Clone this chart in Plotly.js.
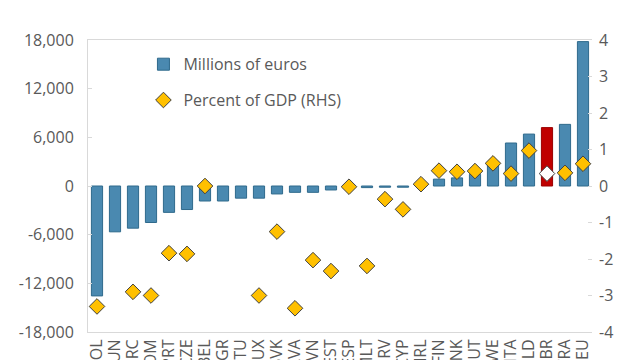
<!DOCTYPE html>
<html>
<head>
<meta charset="utf-8">
<script src="https://cdn.plot.ly/plotly-3.0.1.min.js"></script>
<style>html,body{margin:0;padding:0;background:#fff;}#chart{width:640px;height:360px;}</style>
</head>
<body>
<div id="chart"></div>
<script>
const countries = ['POL','HUN','GRC','ROM','PRT','CZE','BEL','BGR','LTU','LUX','SVK','LVA','SVN','EST','ESP','MLT','HRV','CYP','IRL','FIN','DNK','AUT','SWE','ITA','NLD','GBR','FRA','DEU'];
const millionsEuros = [-13550,-5650,-5200,-4500,-3250,-2900,-1850,-1850,-1500,-1500,-980,-780,-780,-490,-200,-200,-150,-150,50,850,1000,1450,2800,5300,6400,7200,7600,17800];
const pctGDP = [-3.3,-5.7,-2.9,-3.0,-1.84,-1.86,0.0,-4.5,-4.3,-3.0,-1.25,-3.35,-2.03,-2.33,-0.02,-2.19,-0.36,-0.64,0.05,0.42,0.39,0.41,0.62,0.34,0.97,0.34,0.36,0.61];
const highlight = 'GBR';
const leftTicks = [-18000,-12000,-6000,0,6000,12000,18000];
const leftTickText = ['-18,000','-12,000','-6,000','0','6,000','12,000','18,000'];
const rightTicks = [-4,-3,-2,-1,0,1,2,3,4];
const rightTickText = ['-4','-3','-2','-1','0','1','2','3','4'];

const barColors = countries.map(c => c === highlight ? '#C00000' : '#4A89B0');
const barLines = countries.map(c => c === highlight ? '#9A0000' : '#2F6A8C');
const dotColors = countries.map(c => c === highlight ? '#FFFFFF' : '#FFC000');

const font = {family: 'Open Sans, sans-serif', size: 16, color: '#595959'};
const boundaries = countries.map((c, i) => i - 0.5).concat([countries.length - 0.5]);

const traces = [
  {type: 'bar', x: countries, y: millionsEuros, name: 'Millions of euros',
   marker: {color: barColors, line: {color: barLines, width: 1}},
   legendgroup: 'a', hoverinfo: 'x+y'},
  {type: 'scatter', mode: 'markers', x: countries, y: pctGDP, yaxis: 'y2',
   name: 'Percent of GDP (RHS)', legendgroup: 'b', cliponaxis: true,
   marker: {symbol: 'diamond', size: 12, color: dotColors, line: {color: '#404040', width: 1}}}
];

const layout = {
  width: 640, height: 360,
  margin: {l: 88, r: 48, t: 40, b: 28, autoexpand: false},
  paper_bgcolor: '#fff', plot_bgcolor: '#fff',
  font: font,
  bargap: 0.38,
  showlegend: true,
  legend: {x: 0.11, y: 0.975, xanchor: 'left', yanchor: 'top', bgcolor: 'rgba(0,0,0,0)',
           font: font, traceorder: 'grouped', tracegroupgap: 12, itemwidth: 30},
  xaxis: {type: 'category', range: [-0.5, countries.length - 0.5], tickmode: 'array',
          tickvals: countries, ticktext: countries,
          showline: true, linecolor: '#D9D9D9', linewidth: 1, mirror: true,
          ticks: '', tickangle: -90, tickfont: font, automargin: false, showgrid: false, zeroline: false},
  xaxis2: {overlaying: 'x', anchor: 'free', position: 0.5, type: 'linear',
           range: [-0.5, countries.length - 0.5], tickmode: 'array', tickvals: boundaries,
           ticks: 'inside', ticklen: 4, tickcolor: '#D9D9D9', showticklabels: false,
           showline: true, linecolor: '#D9D9D9', linewidth: 1, showgrid: false, zeroline: false},
  yaxis: {range: [-18000, 18000], tickmode: 'array', tickvals: leftTicks, ticktext: leftTickText,
          ticks: 'inside', ticklen: 4, tickcolor: '#D9D9D9', showgrid: false, zeroline: false,
          showline: true, linecolor: '#D9D9D9', linewidth: 1, tickfont: font,
          ticklabelstandoff: 10, automargin: false},
  yaxis2: {range: [-4, 4], overlaying: 'y', side: 'right', tickmode: 'array', tickvals: rightTicks, ticktext: rightTickText,
           ticks: 'inside', ticklen: 4, tickcolor: '#D9D9D9', showgrid: false, zeroline: false,
           showline: false, tickfont: font, ticklabelstandoff: 6, automargin: false}
};

Plotly.newPlot('chart', traces, layout, {displayModeBar: false, staticPlot: true});
</script>
</body>
</html>
